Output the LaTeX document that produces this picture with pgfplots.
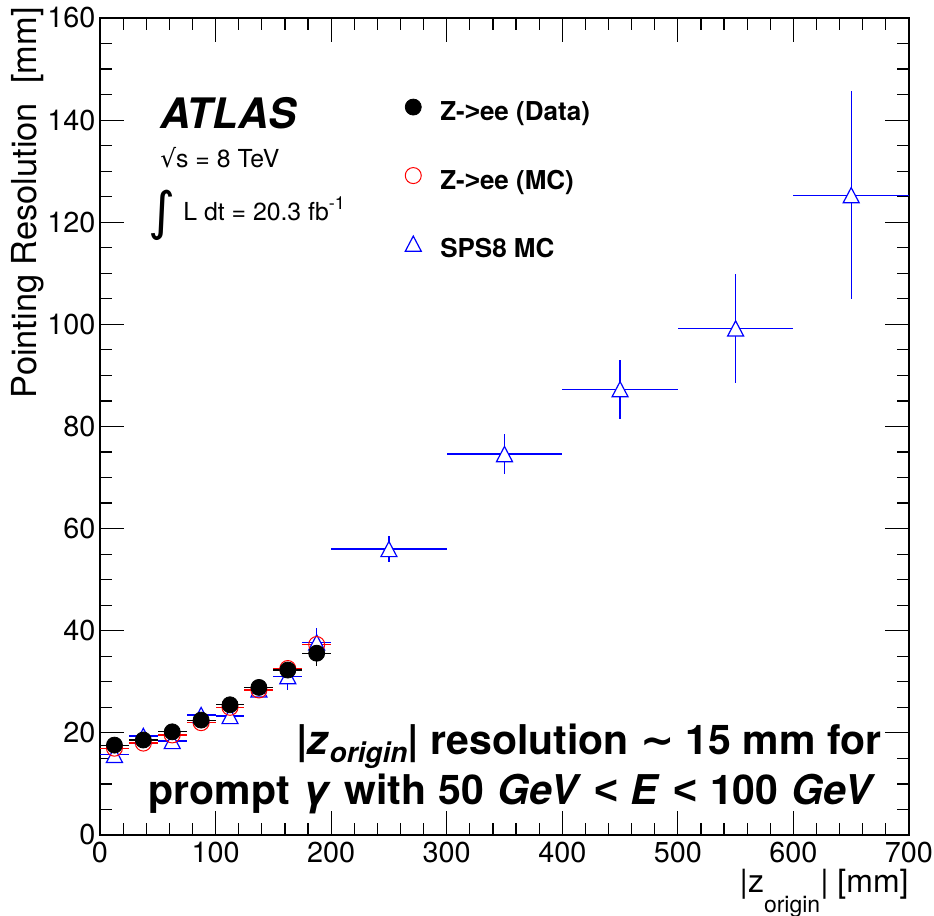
\documentclass[border=0pt]{standalone}
\usepackage{fontspec}
\setmainfont{TeX Gyre Heros}
\newfontfamily\dejavu{DejaVu Sans}
\newfontfamily\arialike{Liberation Sans}
\usepackage{pgfplots}
\usepackage{pgfplotstable}
\pgfplotsset{compat=1.18}

% open upward triangle centred on its mid-height
\pgfdeclareplotmark{utri}{%
  \pgfpathmoveto{\pgfqpoint{0pt}{0.95\pgfplotmarksize}}%
  \pgfpathlineto{\pgfqpoint{-\pgfplotmarksize}{-0.95\pgfplotmarksize}}%
  \pgfpathlineto{\pgfqpoint{\pgfplotmarksize}{-0.95\pgfplotmarksize}}%
  \pgfpathclose
  \pgfusepathqfillstroke
}

% |z_origin| bins: centre, value, half bin width, stat. error
\pgfplotstableread{
x     y     ex    ey
12.5  17.6  12.5  0.8
37.5  18.6  12.5  0.8
62.5  20.2  12.5  0.8
87.5  22.5  12.5  0.9
112.5 25.5  12.5  1.0
137.5 28.9  12.5  1.1
162.5 32.3  12.5  1.3
187.5 35.6  12.5  2.5
}\zeedata

\pgfplotstableread{
x     y     ex    ey
12.5  17.0  12.5  0.5
37.5  18.0  12.5  0.5
62.5  19.6  12.5  0.5
87.5  22.0  12.5  0.5
112.5 25.0  12.5  0.6
137.5 28.4  12.5  0.7
162.5 32.6  12.5  0.8
187.5 37.3  12.5  1.0
}\zeemc

\pgfplotstableread{
x     y      ex    ey
12.5  15.7   12.5  1.0
37.5  19.4   12.5  1.0
62.5  18.4   12.5  1.0
87.5  23.5   12.5  1.0
112.5 23.3   12.5  1.2
137.5 28.5   12.5  1.3
162.5 31.1   12.5  2.7
187.5 37.7   12.5  2.8
250   56.0   50    2.5
350   74.6   50    3.9
450   87.3   50    5.8
550   99.2   50    10.7
650   125.3  50    20.4
}\spsmc

\newcommand{\lt}{{\arialike\bfseries <}}
\newcommand{\gt}{{\arialike\bfseries >}}

\begin{document}
\begin{tikzpicture}
\useasboundingbox (-50pt,-40.5pt) rectangle (417pt,417.5pt);
\begin{axis}[
  at={(0pt,0pt)}, anchor=south west,
  scale only axis, width=404.5pt, height=408.5pt,
  xmin=0, xmax=700, ymin=0, ymax=160,
  xtick={0,100,...,700}, ytick={0,20,...,160},
  minor x tick num=4, minor y tick num=3,
  tick align=inside, xtick pos=both, ytick pos=both,
  xticklabel pos=bottom, yticklabel pos=left,
  major tick length=12pt, minor tick length=6pt,
  every tick/.style={black, line width=0.6pt},
  axis line style={line width=0.8pt},
  /pgf/number format/assume math mode=true,
  tick label style={font=\fontsize{14.4}{17}\selectfont},
  yticklabel style={xshift=1.2pt},
  xlabel={\textbar z\raisebox{-9.5pt}{\fontsize{11.5}{12}\selectfont origin}\textbar{} [mm]},
  xlabel style={at={(axis description cs:1,-0.071)}, anchor=base east,
    inner sep=0pt, font=\fontsize{16}{19}\selectfont},
  ylabel={Pointing Resolution\ \ [mm]},
  ylabel style={at={(axis description cs:-0.0779,1.0135)}, anchor=base east,
    inner sep=0pt, font=\fontsize{17.2}{20}\selectfont},
  legend image code/.code={\draw[#1] plot[only marks] coordinates {(0.3cm,3.5pt)};},
  legend cell align=left,
  legend style={draw=none, fill=none, inner sep=0pt,
    at={(axis cs:263.8,144.2)}, anchor=north west,
    row sep=20.5pt, column sep=9.5pt,
    nodes={inner sep=0pt, text height=9.5pt, text depth=3pt},
    font=\bfseries\fontsize{13}{15}\selectfont},
]
\addlegendimage{mark=*, black, mark size=4pt}
\addlegendentry{Z-\gt ee (Data)}
\addlegendimage{mark=o, red, mark size=4pt, mark options={line width=0.5pt}}
\addlegendentry{Z-\gt ee (MC)}
\addlegendimage{mark=utri, blue, mark size=4pt, mark options={fill=white, line width=0.6pt}}
\addlegendentry{SPS8 MC}

% SPS8 signal MC
\addplot[forget plot, only marks, blue, mark=utri, mark size=4pt,
  mark options={fill=white, line width=0.6pt},
  error bars/.cd, x dir=both, x explicit, y dir=both, y explicit,
  error mark=none, error bar style={line width=0.6pt}]
  table[x=x, y=y, x error=ex, y error=ey] {\spsmc};
% Z->ee simulation
\addplot[forget plot, only marks, red, mark=o, mark size=4pt,
  mark options={line width=0.5pt},
  error bars/.cd, x dir=both, x explicit, y dir=both, y explicit,
  error mark=none, error bar style={line width=0.6pt}]
  table[x=x, y=y, x error=ex, y error=ey] {\zeemc};
% Z->ee data
\addplot[forget plot, only marks, black, mark=*, mark size=4pt,
  error bars/.cd, x dir=both, x explicit, y dir=both, y explicit,
  error mark=none, error bar style={line width=0.6pt}]
  table[x=x, y=y, x error=ex, y error=ey] {\zeedata};

\node[anchor=base west, inner sep=0pt, font=\bfseries\itshape\fontsize{21}{25}\selectfont]
  at (axis cs:51.9,138.3) {ATLAS};
\node[anchor=base west, inner sep=0pt, font=\fontsize{12.4}{15}\selectfont]
  at (axis cs:51.9,130.8) {{\dejavu √}s = 8 TeV};
\node[anchor=center, inner sep=0pt, font=\fontsize{26}{30}\selectfont]
  at (axis cs:53.6,121.4) {\dejavu ∫};
\node[anchor=base west, inner sep=0pt, font=\fontsize{12.4}{15}\selectfont]
  at (axis cs:71.8,120.25) {L dt = 20.3 fb\raisebox{5.5pt}{\fontsize{9}{10}\selectfont -1}};

\node[anchor=base east, inner sep=0pt, font=\bfseries\fontsize{20.5}{24}\selectfont]
  at (axis cs:676.5,15.67)
  {\textbar\textit{z}\raisebox{-4pt}{\fontsize{14}{16}\selectfont\textit{origin}}\textbar{} resolution {\dejavu\textasciitilde} 15 mm for};
\node[anchor=base east, inner sep=0pt, font=\bfseries\fontsize{20.5}{24}\selectfont]
  at (axis cs:671.3,5.88)
  {\spaceskip=6.4pt\relax prompt \textit{γ} with 50 \textit{GeV} \lt{} \textit{E} \lt{} 100 \textit{GeV}};
\end{axis}
\end{tikzpicture}
\end{document}
